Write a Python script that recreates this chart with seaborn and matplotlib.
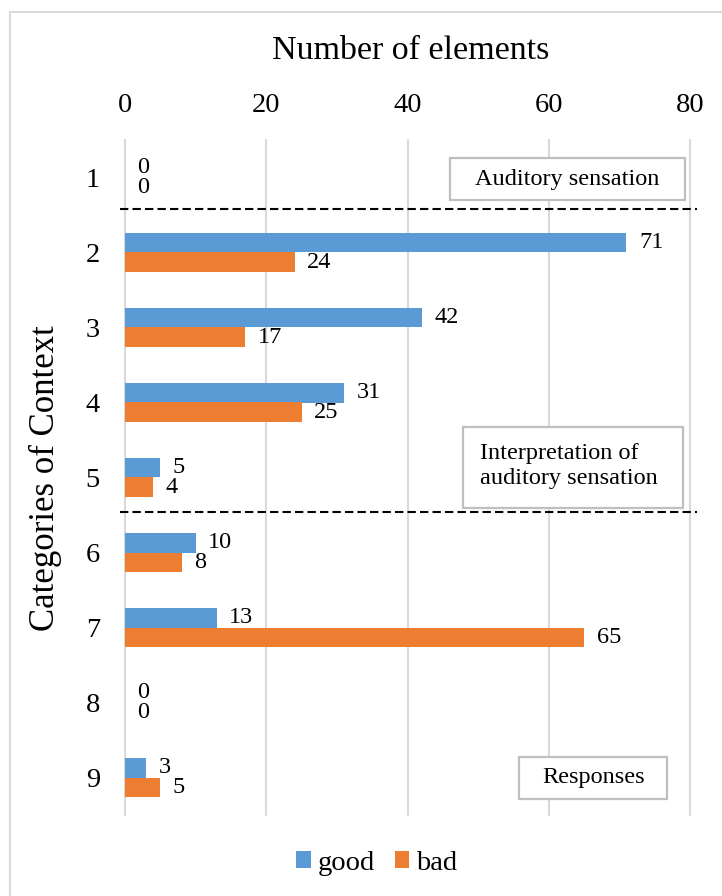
import matplotlib
matplotlib.use("Agg")
import matplotlib.pyplot as plt
import seaborn as sns
import pandas as pd
from matplotlib.patches import Rectangle

# Number of context elements per category, split by rating
categories = ["1", "2", "3", "4", "5", "6", "7", "8", "9"]
good = [0, 71, 42, 31, 5, 10, 13, 0, 3]
bad = [0, 24, 17, 25, 4, 8, 65, 0, 5]
series = ["good", "bad"]
x_ticks = [0, 20, 40, 60, 80]

palette = {"good": "#5B9BD5", "bad": "#ED7D31"}

df = pd.DataFrame({
    "category": categories * 2,
    "count": good + bad,
    "series": ["good"] * len(categories) + ["bad"] * len(categories),
})

sns.set_theme(style="white")
plt.rcParams["font.family"] = ["Liberation Serif", "DejaVu Serif"]
plt.rcParams["text.color"] = "black"
plt.rcParams["axes.labelcolor"] = "black"
plt.rcParams["xtick.color"] = "black"
plt.rcParams["ytick.color"] = "black"

W, H = 722, 896
fig = plt.figure(figsize=(W / 100, H / 100), dpi=100)
ax = fig.add_axes([125 / W, 1 - 815 / H, 565 / W, 675 / H])

sns.barplot(data=df, y="category", x="count", hue="series",
            order=categories, hue_order=series, palette=palette,
            saturation=1, width=0.52, orient="h", linewidth=0,
            errorbar=None, ax=ax)

# value labels next to each bar
for container in ax.containers:
    ax.bar_label(container, padding=9, fontsize=17.5, color="black")

ax.set_xlim(0, 80)
ax.set_ylim(8.5, -0.5)
ax.set_xticks(x_ticks)
ax.xaxis.tick_top()
ax.tick_params(axis="x", length=0, pad=15.5, labelsize=20.5, colors="black")
ax.tick_params(axis="y", length=0, pad=18, labelsize=20.5, colors="black")
for s in ax.spines.values():
    s.set_visible(False)
ax.grid(axis="x", color="#D9D9D9", linewidth=1.5)
ax.grid(axis="y", visible=False)
ax.set_axisbelow(True)
for gl in ax.get_xgridlines():
    gl.set_clip_on(False)

ax.set_xlabel("Number of elements", fontsize=24.5, color="black")
ax.xaxis.set_label_position("top")
ax.xaxis.label.set_va("center")
ax.xaxis.set_label_coords(0.505, (815 - 51) / 675)
ax.set_ylabel("Categories of Context", fontsize=25, color="black")
ax.yaxis.label.set_va("center")
ax.yaxis.set_label_coords((45 - 125) / 565, (815 - 478) / 675)

# group separators
for yv in (0.42, 4.46):
    ax.plot([-0.7, 81.0], [yv, yv], color="black", linestyle=(0, (4, 2)),
            linewidth=1.5, clip_on=False, zorder=4)

# group captions in framed boxes
def caption(x0, x1, y0, y1, tx, ty, text, ha="center"):
    ax.add_patch(Rectangle((x0, y0), x1 - x0, y1 - y0, facecolor="white",
                           edgecolor="#BFBFBF", linewidth=1.6, zorder=5,
                           clip_on=False))
    ax.text(tx, ty, text, ha=ha, va="center", fontsize=17.5, zorder=6,
            linespacing=1.25, color="black")

caption(46.0, 79.3, -0.26, 0.30, 62.65, 0.02, "Auditory sensation")
caption(47.86, 79.0, 3.33, 4.41, 50.3, 3.84,
        "Interpretation of\nauditory sensation", ha="left")
caption(55.8, 76.7, 7.73, 8.29, 66.3, 8.0, "Responses")

handles, labels = ax.get_legend_handles_labels()
ax.get_legend().remove()
fig.legend(handles, labels, loc="center", bbox_to_anchor=(377 / W, 1 - 863 / H),
           ncol=2, frameon=False, fontsize=20.5, handlelength=0.5,
           handleheight=0.5, handletextpad=0.25, columnspacing=0.7)

# outer chart frame
fig.patches.append(Rectangle((10 / W, -0.05), 1.0, (H - 12) / H + 0.05,
                             transform=fig.transFigure, fill=False,
                             edgecolor="#D9D9D9", linewidth=1.5))

fig.savefig("out.png", dpi=100)
